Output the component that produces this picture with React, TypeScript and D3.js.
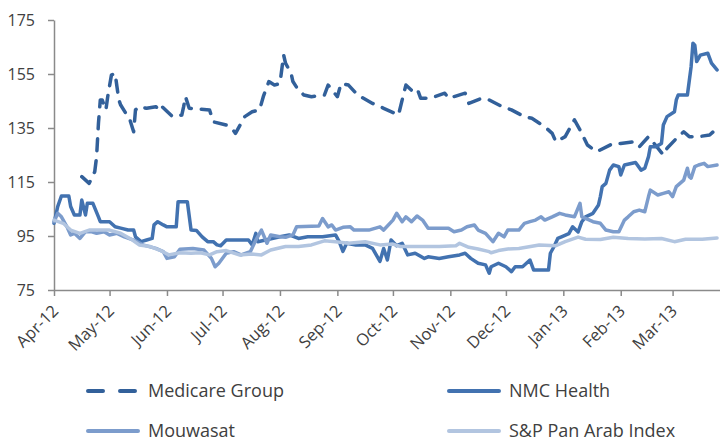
import React, { useRef, useEffect } from 'react';
import * as d3 from 'd3';

type Pt = [string, number];

// Medicare Group (listed mid-April 2012)
const medicare: Pt[] = [
  ['2012-04-16', 117], ['2012-04-20', 114.5], ['2012-04-23', 118.8], ['2012-04-24', 124.4],
  ['2012-04-25', 136.7], ['2012-04-26', 145.4], ['2012-04-27', 145.4], ['2012-04-29', 141.7],
  ['2012-04-30', 146.6], ['2012-05-02', 154.6], ['2012-05-04', 155.3], ['2012-05-05', 150.3],
  ['2012-05-06', 145.4], ['2012-05-07', 143.5], ['2012-05-12', 138], ['2012-05-14', 133.6],
  ['2012-05-15', 141.7], ['2012-05-17', 142.9], ['2012-05-21', 142.3], ['2012-05-26', 142.9],
  ['2012-05-28', 141.7], ['2012-05-29', 143.1], ['2012-06-04', 139.2], ['2012-06-09', 139.8],
  ['2012-06-10', 142.9], ['2012-06-11', 146.6], ['2012-06-13', 142.3], ['2012-06-24', 141.7],
  ['2012-06-26', 137.3], ['2012-07-03', 136.1], ['2012-07-06', 134.9], ['2012-07-08', 133],
  ['2012-07-13', 139.2], ['2012-07-17', 141], ['2012-07-21', 141.7], ['2012-07-23', 146.6],
  ['2012-07-26', 152.2], ['2012-07-29', 150.9], ['2012-08-01', 151.5], ['2012-08-03', 162],
  ['2012-08-04', 159], ['2012-08-07', 155.3], ['2012-08-08', 152.2], ['2012-08-11', 149],
  ['2012-08-14', 147.2], ['2012-08-18', 146.6], ['2012-08-25', 147.2], ['2012-08-27', 150.9],
  ['2012-09-01', 146.6], ['2012-09-03', 151.5], ['2012-09-07', 150.9], ['2012-09-12', 147.2],
  ['2012-09-20', 144.1], ['2012-09-26', 142.3], ['2012-10-04', 139.8], ['2012-10-06', 145.4],
  ['2012-10-08', 150.9], ['2012-10-11', 149], ['2012-10-14', 149.7], ['2012-10-16', 146],
  ['2012-10-21', 146], ['2012-10-29', 147.9], ['2012-10-31', 146], ['2012-11-09', 147.9],
  ['2012-11-11', 144.1], ['2012-11-18', 146], ['2012-11-22', 145.4], ['2012-11-29', 142.9],
  ['2012-12-04', 141.7], ['2012-12-11', 139.2], ['2012-12-15', 138.6], ['2012-12-22', 135.5],
  ['2012-12-26', 133], ['2012-12-28', 129.9], ['2013-01-02', 131.8], ['2013-01-07', 138],
  ['2013-01-10', 134.3], ['2013-01-14', 128.7], ['2013-01-19', 126.2], ['2013-01-28', 129.3],
  ['2013-02-01', 129.3], ['2013-02-08', 129.9], ['2013-02-11', 128], ['2013-02-16', 131.8],
  ['2013-02-19', 129.3], ['2013-02-24', 125], ['2013-02-26', 127.5], ['2013-03-04', 131.8],
  ['2013-03-07', 133.6], ['2013-03-10', 131.8], ['2013-03-15', 131.8], ['2013-03-21', 132.4],
  ['2013-03-25', 134.9],
];

const nmc: Pt[] = [
  ['2012-04-01', 99.7], ['2012-04-03', 105.9], ['2012-04-05', 109.8], ['2012-04-09', 109.8],
  ['2012-04-10', 105.9], ['2012-04-12', 102.8], ['2012-04-15', 102.8], ['2012-04-16', 108.3],
  ['2012-04-18', 102.8], ['2012-04-19', 107.1], ['2012-04-22', 107.1], ['2012-04-25', 102.1],
  ['2012-04-26', 100.3], ['2012-05-01', 100.3], ['2012-05-04', 98.4], ['2012-05-07', 97.9],
  ['2012-05-11', 97.2], ['2012-05-14', 97.2], ['2012-05-15', 94.7], ['2012-05-18', 92.9],
  ['2012-05-21', 93.5], ['2012-05-24', 94.1], ['2012-05-25', 99.1], ['2012-05-27', 100.3],
  ['2012-05-30', 99.1], ['2012-06-01', 98.4], ['2012-06-06', 98.4], ['2012-06-07', 107.7],
  ['2012-06-12', 107.7], ['2012-06-14', 97.2], ['2012-06-17', 97], ['2012-06-20', 94.7],
  ['2012-06-23', 92.9], ['2012-06-26', 92.9], ['2012-06-28', 91.7], ['2012-06-30', 91.4],
  ['2012-07-03', 93.5], ['2012-07-15', 93.5], ['2012-07-17', 91.7], ['2012-07-19', 96],
  ['2012-07-20', 92.9], ['2012-08-01', 94.7], ['2012-08-06', 95.4], ['2012-08-11', 94.1],
  ['2012-08-16', 94.7], ['2012-08-24', 94.7], ['2012-08-31', 95.4], ['2012-09-02', 92.9],
  ['2012-09-04', 89.3], ['2012-09-06', 92.3], ['2012-09-11', 91.7], ['2012-09-16', 91.7],
  ['2012-09-20', 90.4], ['2012-09-24', 85.6], ['2012-09-26', 90.4], ['2012-09-28', 86.1],
  ['2012-09-30', 93.5], ['2012-10-03', 91.4], ['2012-10-06', 92.3], ['2012-10-09', 88],
  ['2012-10-13', 88.6], ['2012-10-18', 86.7], ['2012-10-20', 87.3], ['2012-10-26', 86.7],
  ['2012-10-31', 87.3], ['2012-11-06', 88], ['2012-11-09', 88.6], ['2012-11-12', 86.7],
  ['2012-11-16', 84.9], ['2012-11-20', 84.3], ['2012-11-22', 81.2], ['2012-11-23', 83.6],
  ['2012-11-27', 84.9], ['2012-12-01', 83.6], ['2012-12-04', 81.8], ['2012-12-06', 83.6],
  ['2012-12-10', 83.6], ['2012-12-14', 86.1], ['2012-12-16', 82.4], ['2012-12-24', 82.4],
  ['2012-12-25', 88.6], ['2012-12-27', 91.1], ['2012-12-29', 94.1], ['2012-12-31', 94.7],
  ['2013-01-04', 95.9], ['2013-01-06', 98.4], ['2013-01-09', 96.5], ['2013-01-11', 100.3],
  ['2013-01-13', 102.1], ['2013-01-17', 103.4], ['2013-01-20', 106.5], ['2013-01-21', 109.6],
  ['2013-01-22', 113.3], ['2013-01-24', 114.5], ['2013-01-26', 119.4], ['2013-01-28', 121.3],
  ['2013-01-31', 120.7], ['2013-02-01', 117.6], ['2013-02-03', 121.3], ['2013-02-09', 122.2],
  ['2013-02-12', 119.4], ['2013-02-14', 120.1], ['2013-02-16', 124.4], ['2013-02-17', 128.1],
  ['2013-02-20', 128.1], ['2013-02-23', 129.3], ['2013-02-24', 136.1], ['2013-02-26', 139.2],
  ['2013-03-02', 141], ['2013-03-03', 145.4], ['2013-03-04', 147.2], ['2013-03-09', 147.2],
  ['2013-03-11', 157.7], ['2013-03-12', 166.4], ['2013-03-13', 165.7], ['2013-03-14', 159.6],
  ['2013-03-16', 162], ['2013-03-20', 162.7], ['2013-03-22', 159], ['2013-03-25', 156.5],
];

const mouwasat: Pt[] = [
  ['2012-04-01', 100.3], ['2012-04-03', 103.4], ['2012-04-05', 102.1], ['2012-04-08', 98.4],
  ['2012-04-10', 95.4], ['2012-04-12', 96], ['2012-04-15', 94.1], ['2012-04-18', 96.6],
  ['2012-04-21', 96.6], ['2012-04-24', 96], ['2012-04-28', 96.6], ['2012-05-01', 95.4],
  ['2012-05-05', 96], ['2012-05-09', 94.7], ['2012-05-14', 93.5], ['2012-05-19', 91.7],
  ['2012-05-26', 90.4], ['2012-05-30', 89.2], ['2012-06-01', 86.7], ['2012-06-05', 87.3],
  ['2012-06-08', 90.1], ['2012-06-15', 90.4], ['2012-06-21', 89.8], ['2012-06-25', 86.7],
  ['2012-06-27', 83.6], ['2012-06-29', 84.9], ['2012-07-03', 88.6], ['2012-07-07', 89.2],
  ['2012-07-11', 88], ['2012-07-16', 89.2], ['2012-07-19', 93.5], ['2012-07-22', 97.2],
  ['2012-07-25', 92.3], ['2012-07-27', 95.4], ['2012-08-01', 94.7], ['2012-08-04', 94.5],
  ['2012-08-08', 95.4], ['2012-08-10', 98.4], ['2012-08-22', 98.7], ['2012-08-24', 101.5],
  ['2012-08-27', 98.4], ['2012-08-29', 99.1], ['2012-08-31', 97.2], ['2012-09-04', 98.2],
  ['2012-09-08', 98.4], ['2012-09-10', 97.2], ['2012-09-18', 97.2], ['2012-09-24', 98.4],
  ['2012-09-26', 97.2], ['2012-10-01', 100.9], ['2012-10-03', 103.4], ['2012-10-06', 100.3],
  ['2012-10-08', 102.1], ['2012-10-11', 100.3], ['2012-10-14', 102.4], ['2012-10-17', 100.9],
  ['2012-10-20', 97.9], ['2012-10-31', 97.9], ['2012-11-03', 96.6], ['2012-11-07', 97.2],
  ['2012-11-10', 98.4], ['2012-11-14', 99.1], ['2012-11-16', 97.2], ['2012-11-20', 96],
  ['2012-11-24', 92.9], ['2012-11-27', 96], ['2012-11-30', 94.7], ['2012-12-02', 97.2],
  ['2012-12-08', 97.2], ['2012-12-11', 99.7], ['2012-12-14', 100.3], ['2012-12-17', 100.9],
  ['2012-12-20', 102.1], ['2012-12-22', 100.9], ['2012-12-26', 102.1], ['2012-12-30', 103.4],
  ['2013-01-02', 102.8], ['2013-01-07', 102.1], ['2013-01-10', 107.1], ['2013-01-11', 102.1],
  ['2013-01-13', 101.5], ['2013-01-17', 100.3], ['2013-01-21', 99.7], ['2013-01-24', 97.2],
  ['2013-01-28', 96.6], ['2013-01-31', 96.6], ['2013-02-03', 100.9], ['2013-02-05', 102.1],
  ['2013-02-08', 104], ['2013-02-11', 104.6], ['2013-02-14', 104], ['2013-02-16', 109.6],
  ['2013-02-17', 112], ['2013-02-21', 110.2], ['2013-02-24', 110.8], ['2013-02-27', 111.4],
  ['2013-03-01', 109.6], ['2013-03-03', 113.3], ['2013-03-05', 114.5], ['2013-03-07', 115.7],
  ['2013-03-09', 120.1], ['2013-03-10', 117], ['2013-03-11', 116.4], ['2013-03-13', 120.7],
  ['2013-03-15', 121.3], ['2013-03-18', 121.9], ['2013-03-20', 120.7], ['2013-03-25', 121.3],
];

const spArab: Pt[] = [
  ['2012-04-01', 100.9], ['2012-04-06', 99.7], ['2012-04-10', 97.2], ['2012-04-15', 96],
  ['2012-04-20', 97.2], ['2012-05-01', 97.2], ['2012-05-07', 96], ['2012-05-12', 94.1],
  ['2012-05-17', 91.7], ['2012-05-23', 91.1], ['2012-05-28', 89.8], ['2012-06-02', 88],
  ['2012-06-08', 88.8], ['2012-06-14', 88.6], ['2012-06-19', 88.8], ['2012-06-24', 88],
  ['2012-06-28', 89.2], ['2012-07-03', 89.6], ['2012-07-10', 88], ['2012-07-17', 88.3],
  ['2012-07-22', 88], ['2012-07-27', 89.8], ['2012-08-04', 91.1], ['2012-08-11', 91.1],
  ['2012-08-18', 91.7], ['2012-08-25', 93.2], ['2012-08-31', 92.9], ['2012-09-07', 92.3],
  ['2012-09-16', 92.9], ['2012-09-24', 91.7], ['2012-10-01', 92], ['2012-10-05', 91.1],
  ['2012-10-15', 91.1], ['2012-10-26', 91.1], ['2012-11-04', 91.4], ['2012-11-06', 92.3],
  ['2012-11-11', 90.8], ['2012-11-16', 90.2], ['2012-11-22', 89.2], ['2012-11-23', 88.8],
  ['2012-11-27', 89.6], ['2012-12-02', 90.2], ['2012-12-08', 90.4], ['2012-12-19', 91.7],
  ['2012-12-28', 91.4], ['2013-01-02', 92.9], ['2013-01-09', 94.6], ['2013-01-13', 93.8],
  ['2013-01-21', 93.7], ['2013-01-28', 94.5], ['2013-02-05', 94.1], ['2013-02-14', 93.9],
  ['2013-02-23', 94.1], ['2013-03-02', 92.9], ['2013-03-08', 93.8], ['2013-03-17', 93.8],
  ['2013-03-25', 94.3],
];

const yTicks = [75, 95, 115, 135, 155, 175];

const seriesNames = ['Medicare Group', 'NMC Health', 'Mouwasat', 'S&P Pan Arab Index'];
const seriesColors = ['#32609a', '#4272b0', '#7c9ccc', '#b2c5e0'];

const parse = d3.timeParse('%Y-%m-%d');

export default function App() {
  const svgRef = useRef<SVGSVGElement>(null);

  useEffect(() => {
    if (!svgRef.current) return;
    const svg = d3.select(svgRef.current);
    svg.selectAll('*').remove();

    const font = '"Open Sans", "Noto Sans", sans-serif';
    const textColor = '#404040';
    const axisColor = '#8a8a8a';

    const x = d3.scaleTime()
      .domain([parse('2012-04-01') as Date, parse('2013-04-01') as Date])
      .range([54, 730]);
    const y = d3.scaleLinear().domain([75, 175]).range([290, 20]);

    // y axis
    const yAxis = svg.append('g')
      .attr('transform', 'translate(54,0)')
      .call(d3.axisLeft(y).tickValues(yTicks).tickSize(6).tickSizeOuter(0).tickPadding(13));
    yAxis.select('.domain').attr('stroke', axisColor).attr('stroke-width', 1.5);
    yAxis.selectAll('.tick line').attr('stroke', axisColor).attr('stroke-width', 1.5);
    yAxis.selectAll('.tick text')
      .attr('fill', textColor)
      .style('font-family', font)
      .style('font-size', '16px');

    // x axis, month ticks with rotated labels
    const months = d3.timeMonth.range(parse('2012-04-01') as Date, parse('2013-04-01') as Date);
    const xAxis = svg.append('g')
      .attr('transform', 'translate(0,290)')
      .call(d3.axisBottom(x).tickValues(months).tickSize(6).tickSizeOuter(0)
        .tickFormat(d => d3.timeFormat('%b-%y')(d as Date)));
    xAxis.select('.domain').attr('stroke', axisColor).attr('stroke-width', 1.5);
    xAxis.selectAll('.tick line').attr('stroke', axisColor).attr('stroke-width', 1.5);
    xAxis.selectAll('.tick text')
      .attr('fill', textColor)
      .attr('text-anchor', 'end')
      .attr('dy', 0)
      .attr('y', 0)
      .attr('x', 0)
      .attr('transform', 'translate(5,22) rotate(-45)')
      .style('font-family', font)
      .style('font-size', '16.5px');

    const line = d3.line<Pt>()
      .x(d => x(parse(d[0]) as Date))
      .y(d => y(d[1]));

    const dash = '12 10';
    const allSeries = [medicare, nmc, mouwasat, spArab];
    allSeries.forEach((s, i) => {
      svg.append('path')
        .datum(s)
        .attr('fill', 'none')
        .attr('stroke', seriesColors[i])
        .attr('stroke-width', 3.5)
        .attr('stroke-linejoin', 'round')
        .attr('stroke-linecap', 'round')
        .attr('stroke-dasharray', i === 0 ? dash : null)
        .attr('d', line);
    });

    // legend
    const legend = svg.append('g');
    seriesNames.forEach((name, i) => {
      const lx = i % 2 === 0 ? 88 : 449;
      const ly = i < 2 ? 391 : 431;
      legend.append('line')
        .attr('x1', lx).attr('x2', lx + 50)
        .attr('y1', ly).attr('y2', ly)
        .attr('stroke', seriesColors[i])
        .attr('stroke-width', 4)
        .attr('stroke-linecap', 'round')
        .attr('stroke-dasharray', i === 0 ? '15 17' : null);
      legend.append('text')
        .attr('x', lx + 60)
        .attr('y', ly)
        .attr('dy', '0.35em')
        .attr('fill', textColor)
        .style('font-family', font)
        .style('font-size', '18px')
        .text(name);
    });
  }, []);

  return (
    <svg
      ref={svgRef}
      width={720}
      height={442}
      style={{ position: 'absolute', left: 0, top: 0, background: '#fff' }}
    />
  );
}
